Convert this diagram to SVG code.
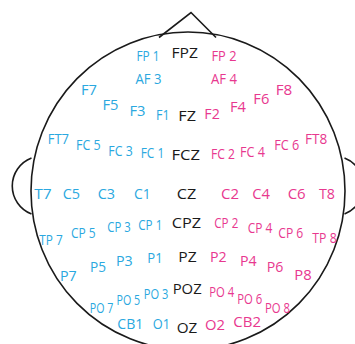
<svg xmlns="http://www.w3.org/2000/svg" width="355" height="344" viewBox="0 0 355 344">
<style>
.h{fill:none;stroke:#1a1a1a;stroke-width:1.6}
text{font-family:"Open Sans","Noto Sans","Liberation Sans",sans-serif;font-size:14.5px}
.b{fill:#2aa8e0}
.p{fill:#e8388f}
.k{fill:#1a1a1a}
.s{font-size:14px}
</style>
<rect width="355" height="344" fill="#ffffff"/>
<g id="head">
<ellipse class="h" cx="188" cy="191" rx="157" ry="159"/>
<path class="h" d="M159,37.5 L191,12.5 L216,37.5"/>
<path class="h" d="M31.5,158 A30,30 0 0 0 31.5,214"/>
<path class="h" d="M344.5,158 A30,30 0 0 1 344.5,214"/>
</g>
<g id="electrodes">
<g id="FP1"><text class="b" x="136.5" y="61" textLength="23" lengthAdjust="spacingAndGlyphs">FP 1</text></g>
<g id="FPZ"><text class="k" x="171.5" y="57.5" textLength="26.5" lengthAdjust="spacingAndGlyphs">FPZ</text></g>
<g id="FP2"><text class="p" x="211.5" y="61" textLength="25" lengthAdjust="spacingAndGlyphs">FP 2</text></g>
<g id="AF3"><text class="b" x="135.5" y="84" textLength="26" lengthAdjust="spacingAndGlyphs">AF 3</text></g>
<g id="AF4"><text class="p" x="211" y="84" textLength="26" lengthAdjust="spacingAndGlyphs">AF 4</text></g>
<g id="F7"><text class="b" x="81" y="95" textLength="16" lengthAdjust="spacingAndGlyphs">F7</text></g>
<g id="F5"><text class="b" x="102.5" y="109.5" textLength="16" lengthAdjust="spacingAndGlyphs">F5</text></g>
<g id="F3"><text class="b" x="129.5" y="115.5" textLength="16" lengthAdjust="spacingAndGlyphs">F3</text></g>
<g id="F1"><text class="b" x="156" y="120" textLength="13.5" lengthAdjust="spacingAndGlyphs">F1</text></g>
<g id="FZ"><text class="k" x="178.3" y="120.5" textLength="17.7" lengthAdjust="spacingAndGlyphs">FZ</text></g>
<g id="F2"><text class="p" x="204.3" y="118.5" textLength="15.5" lengthAdjust="spacingAndGlyphs">F2</text></g>
<g id="F4"><text class="p" x="230" y="111.7" textLength="16" lengthAdjust="spacingAndGlyphs">F4</text></g>
<g id="F6"><text class="p" x="253.3" y="104.3" textLength="16" lengthAdjust="spacingAndGlyphs">F6</text></g>
<g id="F8"><text class="p" x="275.7" y="95" textLength="16.6" lengthAdjust="spacingAndGlyphs">F8</text></g>
<g id="FT7"><text class="b" x="47.7" y="144.3" textLength="21.3" lengthAdjust="spacingAndGlyphs">FT7</text></g>
<g id="FC5"><text class="b" x="76" y="150" textLength="24.7" lengthAdjust="spacingAndGlyphs">FC 5</text></g>
<g id="FC3"><text class="b" x="108.3" y="155.7" textLength="24.4" lengthAdjust="spacingAndGlyphs">FC 3</text></g>
<g id="FC1"><text class="b" x="140.7" y="158.3" textLength="23.6" lengthAdjust="spacingAndGlyphs">FC 1</text></g>
<g id="FCZ"><text class="k" x="171.5" y="160" textLength="28.5" lengthAdjust="spacingAndGlyphs">FCZ</text></g>
<g id="FC2"><text class="p" x="211" y="159.3" textLength="24" lengthAdjust="spacingAndGlyphs">FC 2</text></g>
<g id="FC4"><text class="p" x="240" y="156.7" textLength="25" lengthAdjust="spacingAndGlyphs">FC 4</text></g>
<g id="FC6"><text class="p" x="274.3" y="150" textLength="25" lengthAdjust="spacingAndGlyphs">FC 6</text></g>
<g id="FT8"><text class="p" x="305" y="144.3" textLength="22.3" lengthAdjust="spacingAndGlyphs">FT8</text></g>
<g id="T7"><text class="b" x="34.3" y="199.3" textLength="17.4" lengthAdjust="spacingAndGlyphs">T7</text></g>
<g id="C5"><text class="b" x="62.7" y="199.3" textLength="17.3" lengthAdjust="spacingAndGlyphs">C5</text></g>
<g id="C3"><text class="b" x="97.7" y="199.3" textLength="17.3" lengthAdjust="spacingAndGlyphs">C3</text></g>
<g id="C1"><text class="b" x="134" y="199.3" textLength="16.7" lengthAdjust="spacingAndGlyphs">C1</text></g>
<g id="CZ"><text class="k" x="176.7" y="199.3" textLength="19.5" lengthAdjust="spacingAndGlyphs">CZ</text></g>
<g id="C2"><text class="p" x="221" y="199.3" textLength="18" lengthAdjust="spacingAndGlyphs">C2</text></g>
<g id="C4"><text class="p" x="252.3" y="199.3" textLength="17.7" lengthAdjust="spacingAndGlyphs">C4</text></g>
<g id="C6"><text class="p" x="287.7" y="199.3" textLength="18" lengthAdjust="spacingAndGlyphs">C6</text></g>
<g id="T8"><text class="p" x="319" y="199.3" textLength="16" lengthAdjust="spacingAndGlyphs">T8</text></g>
<g id="TP7"><text class="b" x="39.3" y="245" textLength="23.4" lengthAdjust="spacingAndGlyphs">TP 7</text></g>
<g id="CP5"><text class="b" x="71" y="238.3" textLength="24.7" lengthAdjust="spacingAndGlyphs">CP 5</text></g>
<g id="CP3"><text class="b" x="107.3" y="232.3" textLength="23.4" lengthAdjust="spacingAndGlyphs">CP 3</text></g>
<g id="CP1"><text class="b" x="138.3" y="230" textLength="24" lengthAdjust="spacingAndGlyphs">CP 1</text></g>
<g id="CPZ"><text class="k" x="171.7" y="228" textLength="29.3" lengthAdjust="spacingAndGlyphs">CPZ</text></g>
<g id="CP2"><text class="p" x="214.3" y="228.3" textLength="24" lengthAdjust="spacingAndGlyphs">CP 2</text></g>
<g id="CP4"><text class="p" x="247.7" y="233.3" textLength="24.6" lengthAdjust="spacingAndGlyphs">CP 4</text></g>
<g id="CP6"><text class="p" x="278.3" y="238.3" textLength="25" lengthAdjust="spacingAndGlyphs">CP 6</text></g>
<g id="TP8"><text class="p" x="312.3" y="243.3" textLength="24.4" lengthAdjust="spacingAndGlyphs">TP 8</text></g>
<g id="P7"><text class="b" x="60" y="281" textLength="16.7" lengthAdjust="spacingAndGlyphs">P7</text></g>
<g id="P5"><text class="b" x="90" y="271.7" textLength="16" lengthAdjust="spacingAndGlyphs">P5</text></g>
<g id="P3"><text class="b" x="116" y="266" textLength="16.7" lengthAdjust="spacingAndGlyphs">P3</text></g>
<g id="P1"><text class="b" x="147.3" y="263.3" textLength="15.4" lengthAdjust="spacingAndGlyphs">P1</text></g>
<g id="PZ"><text class="k" x="178.3" y="261.7" textLength="18.4" lengthAdjust="spacingAndGlyphs">PZ</text></g>
<g id="P2"><text class="p" x="210" y="261.7" textLength="16.7" lengthAdjust="spacingAndGlyphs">P2</text></g>
<g id="P4"><text class="p" x="240" y="266" textLength="16.7" lengthAdjust="spacingAndGlyphs">P4</text></g>
<g id="P6"><text class="p" x="266.7" y="271.7" textLength="16.6" lengthAdjust="spacingAndGlyphs">P6</text></g>
<g id="P8"><text class="p" x="294.3" y="280" textLength="17.4" lengthAdjust="spacingAndGlyphs">P8</text></g>
<g id="PO7"><text class="b s" x="89.8" y="313.3" textLength="23.5" lengthAdjust="spacingAndGlyphs">PO 7</text></g>
<g id="PO5"><text class="b s" x="116.6" y="305" textLength="23.6" lengthAdjust="spacingAndGlyphs">PO 5</text></g>
<g id="PO3"><text class="b s" x="143.8" y="299" textLength="24.5" lengthAdjust="spacingAndGlyphs">PO 3</text></g>
<g id="POZ"><text class="k" x="172.7" y="294.3" textLength="29" lengthAdjust="spacingAndGlyphs">POZ</text></g>
<g id="PO4"><text class="p s" x="209.3" y="297.3" textLength="25" lengthAdjust="spacingAndGlyphs">PO 4</text></g>
<g id="PO6"><text class="p s" x="237.3" y="304" textLength="25" lengthAdjust="spacingAndGlyphs">PO 6</text></g>
<g id="PO8"><text class="p s" x="265" y="312.7" textLength="25" lengthAdjust="spacingAndGlyphs">PO 8</text></g>
<g id="CB1"><text class="b" x="117.3" y="329.3" textLength="26" lengthAdjust="spacingAndGlyphs">CB1</text></g>
<g id="O1"><text class="b" x="152.7" y="329.3" textLength="17.3" lengthAdjust="spacingAndGlyphs">O1</text></g>
<g id="OZ"><text class="k" x="176.7" y="333.3" textLength="20.6" lengthAdjust="spacingAndGlyphs">OZ</text></g>
<g id="O2"><text class="p" x="205" y="330" textLength="20" lengthAdjust="spacingAndGlyphs">O2</text></g>
<g id="CB2"><text class="p" x="233.3" y="327.3" textLength="27.7" lengthAdjust="spacingAndGlyphs">CB2</text></g>
</g>
<g id="connectors"></g>
</svg>
